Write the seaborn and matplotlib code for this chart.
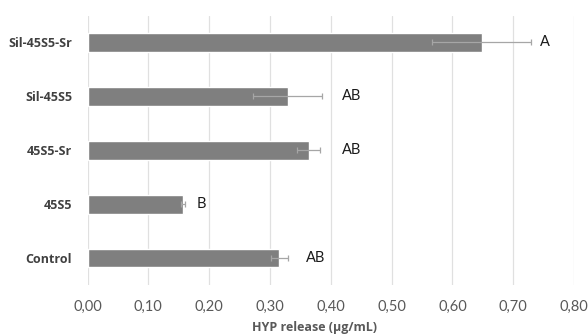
import matplotlib
matplotlib.use("Agg")
import matplotlib.pyplot as plt
from matplotlib.ticker import FuncFormatter, MultipleLocator
import seaborn as sns
import pandas as pd

# HYP release per group (µg/mL), standard deviation and significance letters
groups = ["Sil-45S5-Sr", "Sil-45S5", "45S5-Sr", "45S5", "Control"]
hyp = [0.648, 0.329, 0.364, 0.157, 0.315]
sd = [0.082, 0.057, 0.019, 0.004, 0.014]
letters = ["A", "AB", "AB", "B", "AB"]
letter_x = [0.744, 0.418, 0.418, 0.179, 0.359]

df = pd.DataFrame({"group": groups, "hyp": hyp, "sd": sd})

sns.set_theme(style="white")
plt.rcParams["font.family"] = ["Lato", "DejaVu Sans"]
bold_family = ["Open Sans", "DejaVu Sans"]

fig = plt.figure(figsize=(5.88, 3.35), dpi=100)
ax = fig.add_axes([87.5 / 588, 50 / 335, (574 - 87.5) / 588, (285 - 15.5) / 335])

sns.barplot(data=df, x="hyp", y="group", order=groups, color="#7f7f7f",
            saturation=1, width=0.35, errorbar=None, ax=ax, zorder=2)

ax.errorbar(df["hyp"], range(len(groups)), xerr=df["sd"], fmt="none",
            ecolor="#a6a6a6", elinewidth=0.9, capsize=2, capthick=0.9, zorder=3)

for i, (lab, lx) in enumerate(zip(letters, letter_x)):
    ax.text(lx, i, lab, va="center", ha="left", fontsize=10.5, color="#1a1a1a")

ax.set_xlim(0, 0.8)
ax.set_ylim(4.5, -0.5)
ax.xaxis.set_major_locator(MultipleLocator(0.1))
ax.xaxis.set_major_formatter(FuncFormatter(lambda v, p: f"{v:.2f}".replace(".", ",")))
ax.grid(axis="x", color="#e0e0e0", linewidth=0.9, zorder=0)
ax.set_axisbelow(True)
for s in ax.spines.values():
    s.set_visible(False)

ax.tick_params(axis="x", length=0, pad=11, labelsize=10.5, labelcolor="#595959")
ax.tick_params(axis="y", length=0, pad=11, labelsize=9, labelcolor="#404040")
for t in ax.get_yticklabels():
    t.set_fontweight("bold")
    t.set_family(bold_family)

ax.set_ylabel("")
ax.set_xlabel("HYP release (µg/mL)", fontsize=9, fontweight="bold",
              color="#595959", family=bold_family)
ax.xaxis.set_label_coords((314.5 - 87.5) / 486.5, -(328 - 285) / 269.5)
ax.xaxis.label.set_va("center")

fig.savefig("out.png", dpi=100)
